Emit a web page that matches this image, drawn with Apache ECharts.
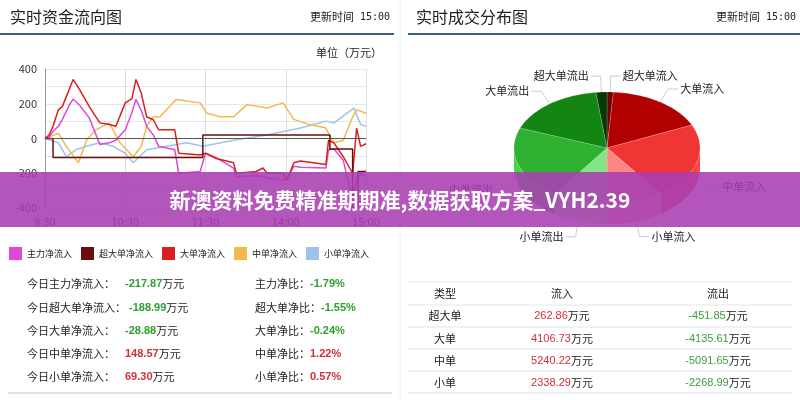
<!DOCTYPE html>
<html><head><meta charset="utf-8">
<script src="https://cdn.jsdelivr.net/npm/echarts@6/dist/echarts.min.js"></script>
<style>html,body{margin:0;padding:0;background:#fff}#main{width:800px;height:400px}</style>
</head><body><div id="main"></div>
<script>
// minutes since 9:30 (0..240), values in 万元
const mainX = [0,3,6,10,13,18,21,26,33,41,48,53,60,65,68,72,76,81,85,97,100,116,120,128,141,143,158,166,178,181,186,191,210,212,216,223,230,233,236,240];
const mainY = [0,10,40,70,110,190,227,190,120,-35,-25,-10,50,150,225,160,70,20,-45,-65,-200,-190,-85,-110,-170,-220,-215,-225,-240,-230,-160,-165,-170,-65,-60,-125,-355,-240,-200,-220];
const largeX = [0,3,6,10,13,18,21,26,33,41,48,53,60,65,68,72,76,81,85,97,100,116,120,128,141,143,158,163,166,178,181,186,191,210,212,216,223,230,233,236,240];
const largeY = [0,20,70,165,185,280,340,280,185,90,80,70,205,230,340,260,125,108,50,50,-85,-95,-85,-115,-140,-200,-190,-170,-200,-200,-240,-140,-130,-150,-10,-25,-105,-200,60,-45,-30];
const superX = [0,6,6,118,118,213,213,230,230,234,234,240];
const superY = [0,0,-110,-110,20,20,-60,-60,-400,-400,-190,-190];
const midX = [0,10,16,25,31,38,48,56,66,72,76,81,86,98,116,121,131,141,151,166,178,186,198,210,216,223,230,233,240];
const midY = [0,30,-45,-140,-10,50,90,-25,-105,-45,70,125,125,225,205,145,125,125,195,175,205,110,80,60,-25,-10,125,165,145];
const smallX = [0,10,16,23,31,41,51,60,66,76,91,106,118,141,166,191,210,216,231,236,240];
const smallY = [0,-25,-105,-65,-45,-25,-45,-85,-140,-65,-45,-25,-45,-10,20,60,100,90,175,80,70];
const xTicks = ['9:30','10:30','11:30','14:00','15:00'];

const pieNames = ['超大单流入','大单流入','中单流入','小单流入','小单流出','中单流出','大单流出','超大单流出'];
const pieValues = [262.86,4106.73,5240.22,2338.29,2268.99,5091.65,4135.61,451.85];
const pieColors = ['#6e0000','#b00000','#f03535','#ff8585','#85e285','#30b030','#138513','#033a03'];

const statLabels = ['今日主力净流入：','今日超大单净流入：','今日大单净流入：','今日中单净流入：','今日小单净流入：'];
const statValues = ['-217.87','-188.99','-28.88','148.57','69.30'];
const ratioLabels = ['主力净比：','超大单净比：','大单净比：','中单净比：','小单净比：'];
const ratioValues = ['-1.79%','-1.55%','-0.24%','1.22%','0.57%'];

const tableHead = ['类型','流入','流出'];
const tableTypes = ['超大单','大单','中单','小单'];
const tableIn = ['262.86','4106.73','5240.22','2338.29'];
const tableOut = ['-451.85','-4135.61','-5091.65','-2268.99'];

const FONT = '"Noto Sans CJK SC", sans-serif';
const zip = (xs, ys) => xs.map((x, i) => [x, ys[i]]);
const chart = echarts.init(document.getElementById('main'));

const total = pieValues.reduce((a, b) => a + b, 0);
const cx = 607, cy = 148, rx = 93, ry = 56, depth = 20;
function pt(a, dy) { return [cx + rx * Math.cos(a), cy + ry * Math.sin(a) + (dy || 0)]; }
function arcPts(a0, a1, dy) {
    const pts = [], n = Math.max(2, Math.ceil((a1 - a0) / 0.03));
    for (let i = 0; i <= n; i++) pts.push(pt(a0 + (a1 - a0) * i / n, dy));
    return pts;
}
function renderPie(params, api) {
    const i = params.dataIndex;
    let cum = 0;
    for (let k = 0; k < i; k++) cum += pieValues[k];
    const a0 = -Math.PI / 2 + cum / total * 2 * Math.PI;
    const a1 = a0 + pieValues[i] / total * 2 * Math.PI;
    const color = pieColors[i];
    const children = [];
    const s0 = Math.max(a0, 0), s1 = Math.min(a1, Math.PI);
    if (s1 > s0) {
        const side = arcPts(s0, s1, 0).concat(arcPts(s0, s1, depth).reverse());
        children.push({type: 'polygon', shape: {points: side}, style: {fill: echarts.color.lift(color, -0.25)}});
    }
    children.push({type: 'polygon', shape: {points: [[cx, cy]].concat(arcPts(a0, a1, 0))},
        style: {fill: color, stroke: 'rgba(255,255,255,0.35)', lineWidth: 0.5}});
    const m = (a0 + a1) / 2, c = Math.cos(m), s = Math.sin(m);
    const extra = s > 0 ? depth : 0;
    const p1 = [cx + rx * c, cy + ry * s + extra * 0.5];
    const p2 = [cx + (rx + 14) * c, cy + (ry + 16) * s + extra];
    const p3 = [p2[0] + (c >= 0 ? 10 : -10), p2[1]];
    children.push({type: 'polyline', shape: {points: [p1, p2, p3]}, style: {stroke: '#ccc', lineWidth: 1, fill: null}});
    children.push({type: 'text', x: p3[0] + (c >= 0 ? 2 : -2), y: p3[1],
        style: {text: pieNames[i], fill: '#222', font: '11px ' + FONT, align: c >= 0 ? 'left' : 'right', verticalAlign: 'middle'}});
    return {type: 'group', children: children};
}

const graphics = [];
function txt(x, y, t, opt) {
    graphics.push({type: 'text', x: x, y: y, silent: true,
        style: Object.assign({text: t, fill: '#333', font: '12px ' + FONT, verticalAlign: 'middle'}, opt || {})});
}
function line(x1, y1, x2, y2, color, w) {
    graphics.push({type: 'line', silent: true, shape: {x1: x1, y1: y1, x2: x2, y2: y2}, style: {stroke: color, lineWidth: w || 1}});
}
// headers
txt(10, 17, '实时资金流向图', {font: '16px ' + FONT, fill: '#222'});
txt(310, 17, '更新时间', {font: '11px ' + FONT, fill: '#222'});
txt(360, 17, '15:00', {font: '10px "DejaVu Sans Mono"', fill: '#222'});
txt(416, 17, '实时成交分布图', {font: '16px ' + FONT, fill: '#222'});
txt(716, 17, '更新时间', {font: '11px ' + FONT, fill: '#222'});
txt(766, 17, '15:00', {font: '10px "DejaVu Sans Mono"', fill: '#222'});
line(0, 34, 394, 34, '#3d5f86', 2);
line(408, 34, 800, 34, '#3d5f86', 2);
line(400, 0, 400, 400, '#eef0f3', 1);
txt(316, 53, '单位（万元）', {font: '11px ' + FONT, fill: '#222'});
// left stats
const rowsY = [284, 308, 331, 354, 377];
const vRich = {
    g: {fill: '#2ca02c', font: 'bold 11px Arial, sans-serif'},
    r: {fill: '#d0303a', font: 'bold 11px Arial, sans-serif'},
    u: {fill: '#222', font: '11px ' + FONT}
};
statLabels.forEach((l, i) => {
    txt(27, rowsY[i], l, {font: '11px ' + FONT, fill: '#222'});
    const neg = statValues[i][0] === '-';
    txt(i === 1 ? 129 : 125, rowsY[i], '{' + (neg ? 'g' : 'r') + '|' + statValues[i] + '}{u|万元}', {rich: vRich});
    txt(255, rowsY[i], ratioLabels[i] + '{' + (ratioValues[i][0] === '-' ? 'g' : 'r') + '|' + ratioValues[i] + '}', {font: '11px ' + FONT, fill: '#222', rich: vRich});
});
line(8, 393, 392, 393, '#dde3ea', 2);
// right table
const colX = [445, 562, 718];
const tRows = [294, 316, 339, 361, 383];
[282, 305, 327, 349, 371, 393].forEach(y => line(408, y, 792, y, '#dfe6ee', 1));
tableHead.forEach((h, j) => txt(colX[j], tRows[0], h, {font: '11px ' + FONT, fill: '#222', align: 'center'}));
const tRich = {
    g: {fill: '#3aa040', font: '11px Arial, sans-serif'},
    r: {fill: '#d0303a', font: '11px Arial, sans-serif'},
    u: {fill: '#222', font: '11px ' + FONT}
};
tableTypes.forEach((t, i) => {
    const y = tRows[i + 1];
    txt(colX[0], y, t, {font: '11px ' + FONT, fill: '#222', align: 'center'});
    txt(colX[1], y, '{r|' + tableIn[i] + '}{u|万元}', {align: 'center', rich: tRich});
    txt(colX[2], y, '{g|' + tableOut[i] + '}{u|万元}', {align: 'center', rich: tRich});
});
// banner
graphics.push({type: 'rect', silent: true, z: 100, shape: {x: 0, y: 172, width: 800, height: 55},
    style: {fill: 'rgba(168,62,178,0.88)'}});
graphics.push({type: 'text', silent: true, z: 101, x: 400, y: 200,
    style: {text: '新澳资料免费精准期期准,数据获取方案_VYH2.39', fill: '#fff', font: 'bold 21px ' + FONT,
        align: 'center', verticalAlign: 'middle'}});

function lineSeries(name, color, data, extra) {
    return Object.assign({name: name, type: 'line', data: data, showSymbol: false, symbol: 'none',
        lineStyle: {color: color, width: 1.5}, itemStyle: {color: color}}, extra || {});
}

chart.setOption({
    animation: false,
    textStyle: {fontFamily: FONT},
    grid: {left: 45, right: 434, top: 69, bottom: 192},
    xAxis: {
        type: 'value', min: 0, max: 240, interval: 60,
        axisLine: {show: true, lineStyle: {color: '#999'}},
        axisTick: {show: false},
        axisLabel: {color: '#333', fontSize: 11, formatter: v => xTicks[v / 60]},
        splitLine: {show: true, lineStyle: {color: '#ddd'}}
    },
    yAxis: {
        type: 'value', min: -400, max: 400, interval: 100,
        axisLine: {show: true, lineStyle: {color: '#999'}},
        axisTick: {show: false},
        axisLabel: {color: '#333', fontSize: 11, formatter: v => v % 200 === 0 ? v : ''},
        splitLine: {lineStyle: {color: '#e6e6e6'}}
    },
    legend: {
        left: 4, top: 242, itemGap: 9, itemWidth: 13, itemHeight: 13, icon: 'rect',
        textStyle: {fontSize: 9, color: '#222'},
        data: ['主力净流入', '超大单净流入', '大单净流入', '中单净流入', '小单净流入']
    },
    graphic: graphics,
    series: [
        lineSeries('小单净流入', '#9cc4ea', zip(smallX, smallY)),
        lineSeries('中单净流入', '#f2b84a', zip(midX, midY)),
        lineSeries('主力净流入', '#e048d8', zip(mainX, mainY)),
        lineSeries('大单净流入', '#d82020', zip(largeX, largeY)),
        lineSeries('超大单净流入', '#6a0c0c', zip(superX, superY), {
            markLine: {silent: true, symbol: 'none', label: {show: false},
                lineStyle: {color: '#555', type: 'solid', width: 1}, data: [{yAxis: 0}]}
        }),
        {type: 'custom', coordinateSystem: 'none', renderItem: renderPie, data: pieValues, silent: true}
    ]
});
</script></body></html>
